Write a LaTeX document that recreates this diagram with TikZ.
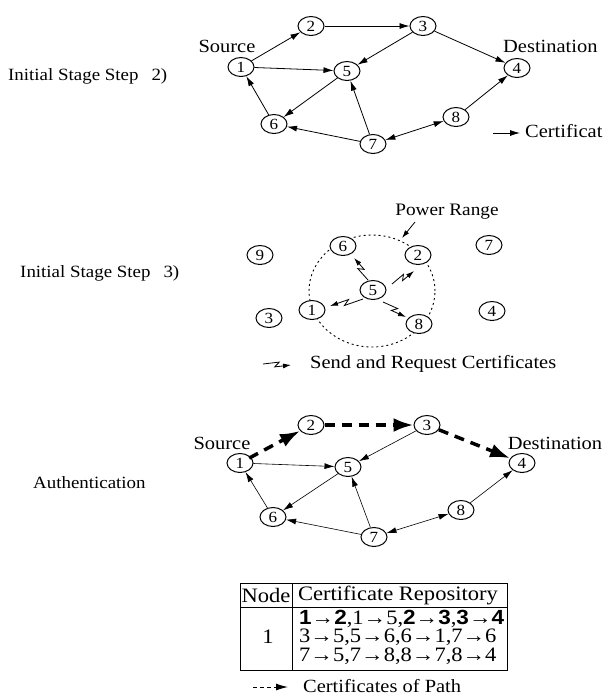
\documentclass[tikz,border=0pt]{standalone}
\usepackage{fontspec}
\setmainfont{Liberation Serif}[FakeStretch=1.1]
\newfontfamily\bsans{Liberation Sans}[FakeStretch=1.1]
\usetikzlibrary{arrows.meta,shapes.geometric,calc}
\tikzset{
  nd/.style={draw, fill=white, ellipse, minimum width=26pt, minimum height=19pt, inner sep=0pt, line width=1pt, font=\fontsize{15.5}{16}\selectfont},
  edge/.style={-{Latex[length=10pt,width=6pt]}, line width=0.8pt},
  dedge/.style={{Latex[length=10pt,width=6pt]}-{Latex[length=10pt,width=6pt]}, line width=0.8pt},
  pathedge/.style={-{Latex[length=20pt,width=14pt]}, line width=3.5pt, dash pattern=on 10pt off 7pt},
  zz/.style={-{Latex[length=8pt,width=5pt]}, line width=0.8pt},
  lbl/.style={font=\fontsize{18.6}{20}\selectfont, inner sep=0pt},
  side/.style={font=\fontsize{17.2}{20}\selectfont, inner sep=0pt, anchor=west},
  tbl/.style={font=\fontsize{20.5}{22}\selectfont, inner sep=0pt},
  ring/.style={dash pattern=on 2pt off 3pt, line width=0.9pt}
}
\begin{document}
\begin{tikzpicture}[x=1pt,y=-1pt]
\useasboundingbox (0,0) rectangle (604,697);
% ---------- top ----------
\node[side] (l1) at (8,76) {Initial Stage Step\hspace{13pt}2)};
\node[lbl] (ts) at (227,46) {Source};
\node[lbl, anchor=west] (td) at (503,46) {Destination};
\node[nd] (t1) at (241,67) {1};
\node[nd] (t2) at (311,26) {2};
\node[nd] (t3) at (423,26) {3};
\node[nd] (t4) at (517,68) {4};
\node[nd] (t5) at (347,71) {5};
\node[nd] (t6) at (274,124) {6};
\node[nd] (t7) at (373,144) {7};
\node[nd] (t8) at (456,117) {8};
\draw[edge] (t1) -- (t2);
\draw[edge] (t2) -- (t3);
\draw[edge] (t3) -- (t5);
\draw[edge] (t3) -- (t4);
\draw[edge] (t1) -- (t5);
\draw[edge] (t5) -- (t6);
\draw[edge] (t6) -- (t1);
\draw[edge] (t7) -- (t6);
\draw[edge] (t7) -- (t5);
\draw[dedge] (t7) -- (t8);
\draw[edge] (t8) -- (t4);
\coordinate (ca) at (493,133);
\coordinate (cb) at (520,133);
\draw[edge] (ca) -- (cb);
\node[lbl, anchor=west] (tc) at (525,131) {Certificat};
% ---------- middle ----------
\node[side] (l2) at (20,273) {Initial Stage Step\hspace{13pt}3)};
\draw[ring] (372,291) ellipse [x radius=63pt, y radius=56pt];
\node[nd] (m9) at (260,255) {9};
\node[nd] (m6) at (343,246) {6};
\node[nd] (m2) at (418,255) {2};
\node[nd] (m5) at (373,290) {5};
\node[nd] (m1) at (312,310) {1};
\node[nd] (m8) at (419,324) {8};
\node[nd] (m3) at (269,318) {3};
\node[nd] (m7) at (489,245) {7};
\node[nd] (m4) at (492,311) {4};
\node[lbl, font=\fontsize{17.5}{20}\selectfont] (pr) at (447,212) {Power Range};
\coordinate (pa) at (415,222);
\coordinate (pb) at (402,238);
\draw[-{Latex[length=8pt,width=5pt]}, line width=0.8pt] (pa) -- (pb);
\newcommand\zigarr[2]{%
  \draw[zz] (#1) -- ($($(#1)!0.58!(#2)$)!2.5pt!90:(#2)$) -- ($($(#1)!0.42!(#2)$)!2.5pt!-90:(#2)$) -- (#2);}
\coordinate (z6a) at (368,280); \coordinate (z6b) at (354,258);
\coordinate (z2a) at (392,284); \coordinate (z2b) at (414,271);
\coordinate (z1a) at (363,299); \coordinate (z1b) at (330,306);
\coordinate (z8a) at (383,302); \coordinate (z8b) at (406,317);
\coordinate (zla) at (263,364); \coordinate (zlb) at (291,365);
\zigarr{z6a}{z6b}
\zigarr{z2a}{z2b}
\zigarr{z1a}{z1b}
\zigarr{z8a}{z8b}
\zigarr{zla}{zlb}
\node[lbl, anchor=west] (sr) at (310,364) {Send and Request Certificates};
% ---------- bottom ----------
\node[side] (l3) at (33,483) {Authentication};
\node[lbl] (bs) at (222,443) {Source};
\node[lbl] (bd) at (555,443) {Destination};
\node[nd] (b1) at (240,463) {1};
\node[nd] (b2) at (311,425) {2};
\node[nd] (b3) at (427,425) {3};
\node[nd] (b4) at (522,463) {4};
\node[nd] (b5) at (348,467) {5};
\node[nd] (b6) at (273,517) {6};
\node[nd] (b7) at (374,537) {7};
\node[nd] (b8) at (461,510) {8};
\draw[pathedge, shorten <=-2pt] (b1) -- (b2);
\draw[pathedge] (b2) -- (b3);
\draw[pathedge] (b3) -- (b4);
\draw[edge, line width=0.6pt] (b1) -- (b5);
\draw[edge, line width=0.6pt] (b3) -- (b5);
\draw[edge, line width=0.6pt] (b5) -- (b6);
\draw[edge, line width=0.6pt] (b6) -- (b1);
\draw[edge, line width=0.6pt] (b7) -- (b6);
\draw[edge, line width=0.6pt] (b7) -- (b5);
\draw[dedge, line width=0.6pt] (b7) -- (b8);
\draw[edge, line width=0.6pt] (b8) -- (b4);
% ---------- table ----------
\draw[line width=0.9pt] (240,583) rectangle (507,670);
\draw[line width=0.9pt] (240,607) -- (507,607);
\draw[line width=0.9pt] (292,583) -- (292,670);
\node[tbl] (hn) at (266,595) {Node};
\node[tbl] (hc) at (398,595) {Certificate Repository};
\node[tbl] (n1) at (268,637) {1};
\node[tbl, anchor=west, align=left, font=\fontsize{20.5}{18.5}\selectfont] (rows) at (299,637)
  {{\bsans\bfseries 1→2},1→5,{\bsans\bfseries 2→3},{\bsans\bfseries 3→4}\\
   3→5,5→6,6→1,7→6\\
   7→5,7→8,8→7,8→4};
\coordinate (la) at (253,687);
\coordinate (lb) at (288,687);
\draw[-{Latex[length=12pt,width=7pt]}, line width=1pt, dash pattern=on 4pt off 3pt] (la) -- (lb);
\node[lbl, anchor=west] (lc) at (303,686) {Certificates of Path};
\end{tikzpicture}
\end{document}
